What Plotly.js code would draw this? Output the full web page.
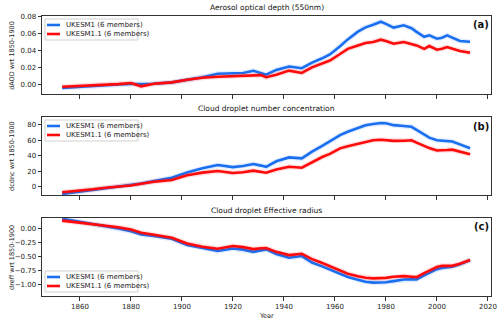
<!DOCTYPE html>
<html>
<head>
<meta charset="utf-8">
<script src="https://cdn.plot.ly/plotly-3.0.1.min.js"></script>
<style>
  html, body { margin: 0; padding: 0; background: #fff; }
  #graph { width: 500px; height: 322px; }
</style>
</head>
<body>
<div id="graph"></div>
<script>
// values, anomaly wrt 1850-1900
var years = [1853, 1860, 1865, 1870, 1875, 1880, 1884, 1889, 1896, 1902, 1908, 1914, 1920, 1924,
  1928, 1931, 1933, 1937, 1942, 1947, 1951, 1955, 1958, 1962, 1965, 1969, 1972, 1975, 1978,
  1980, 1983, 1987, 1990, 1992, 1995, 1997, 2000, 2002, 2004, 2006, 2009, 2013];

var aodUK1 = [-0.0035, -0.002, -0.001, 0.0, 0.0005, 0.0012, 0.001, 0.0015, 0.003, 0.006, 0.009, 0.013,
  0.014, 0.014, 0.0165, 0.014, 0.012, 0.0175, 0.0215, 0.0195, 0.026, 0.031, 0.0355, 0.045, 0.053,
  0.062, 0.067, 0.070, 0.0735, 0.071, 0.0667, 0.0694, 0.066, 0.0617, 0.056, 0.0577, 0.0538, 0.055,
  0.0577, 0.055, 0.0511, 0.0503];
var aodUK11 = [-0.002, -0.001, 0.0, 0.0, 0.001, 0.0023, -0.0016, 0.0015, 0.003, 0.006, 0.0085, 0.0095,
  0.0105, 0.011, 0.0115, 0.0115, 0.009, 0.012, 0.0167, 0.014, 0.0205, 0.025, 0.0284, 0.036, 0.042,
  0.046, 0.0488, 0.050, 0.0527, 0.051, 0.048, 0.050, 0.048, 0.046, 0.042, 0.0453, 0.041, 0.042,
  0.044, 0.042, 0.0394, 0.0374];

var cdncUK1 = [-9, -6, -3.8, -1.7, 0, 2, 4.5, 7.7, 12, 18.5, 24, 28.2, 25.5, 27, 29.5, 27.5, 26, 33,
  38, 36.8, 45.5, 53, 58.5, 66.8, 71, 76, 79.5, 81, 82.2, 82, 79.5, 78.5, 77.4, 73.5, 67, 63.5, 60,
  59.3, 59.5, 58.5, 54.8, 49.7];
var cdncUK11 = [-6.8, -5.1, -3, -0.9, 0.5, 2, 4.2, 6.8, 9, 15, 18.5, 20.5, 18, 19, 21, 20, 18.4, 22.5,
  26, 24.8, 32, 38.5, 42.5, 49.7, 52.5, 55.5, 58.5, 60, 60.7, 60.3, 59.3, 59.5, 60, 57, 52.5, 50, 47,
  46.8, 47.5, 48, 45.3, 42];

var reffUK1 = [0.185, 0.13, 0.09, 0.054, 0.01, -0.04, -0.096, -0.126, -0.174, -0.285, -0.345, -0.395,
  -0.35, -0.37, -0.41, -0.38, -0.365, -0.45, -0.515, -0.485, -0.6, -0.67, -0.724, -0.8, -0.86, -0.91,
  -0.945, -0.96, -0.964, -0.955, -0.934, -0.904, -0.9, -0.904, -0.83, -0.78, -0.72, -0.7, -0.69,
  -0.675, -0.634, -0.557];
var reffUK11 = [0.15, 0.113, 0.09, 0.066, 0.03, -0.01, -0.066, -0.102, -0.156, -0.26, -0.318, -0.354,
  -0.305, -0.325, -0.36, -0.345, -0.34, -0.41, -0.467, -0.443, -0.54, -0.61, -0.664, -0.74, -0.8,
  -0.845, -0.874, -0.885, -0.886, -0.875, -0.856, -0.844, -0.855, -0.862, -0.79, -0.74, -0.68, -0.66,
  -0.665, -0.66, -0.623, -0.557];

var names = ["UKESM1 (6 members)", "UKESM1.1 (6 members)"];
var titles = ["Aerosol optical depth (550nm)", "Cloud droplet number concentration", "Cloud droplet Effective radius"];
var ylabels = ["dAOD wrt 1850-1900", "dcdnc wrt 1850-1900", "dreff wrt 1850-1900"];
var panelTags = ["(a)", "(b)", "(c)"];

var blue = "#1a6ff0";
var red = "#ff0a0a";
var colors = [blue, red];
var fnt = "DejaVu Sans, sans-serif";

function series(x, y, xa, ya, col, name) {
  // faint wide copy underneath to mimic the member spread
  var halo = {
    x: x, y: y, xaxis: xa, yaxis: ya, type: "scatter", mode: "lines",
    line: {color: col, width: 5}, opacity: 0.13, showlegend: false, hoverinfo: "skip"
  };
  var main = {
    x: x, y: y, xaxis: xa, yaxis: ya, type: "scatter", mode: "lines", name: name,
    line: {color: col, width: 2.6}, showlegend: false
  };
  return [halo, main];
}

var data = [].concat(
  series(years, aodUK1, "x", "y", blue, names[0]),
  series(years, aodUK11, "x", "y", red, names[1]),
  series(years, cdncUK1, "x2", "y2", blue, names[0]),
  series(years, cdncUK11, "x2", "y2", red, names[1]),
  series(years, reffUK1, "x3", "y3", blue, names[0]),
  series(years, reffUK11, "x3", "y3", red, names[1])
);

function xax(anchor, labels) {
  return {
    anchor: anchor, range: [1845.1, 2021.2], showgrid: false, zeroline: false,
    showline: true, mirror: true, linecolor: "#333", linewidth: 1,
    ticks: "outside", ticklen: 3.5, tickcolor: "#333", tickvals: [1860, 1880, 1900, 1920, 1940, 1960, 1980, 2000, 2020],
    showticklabels: labels, tickfont: {family: fnt, size: 7, color: "#222"}
  };
}
function yax(anchor, dom, rng, vals, fmt) {
  return {
    anchor: anchor, domain: dom, range: rng, showgrid: false, zeroline: false,
    showline: true, mirror: true, linecolor: "#333", linewidth: 1,
    ticks: "outside", ticklen: 3.5, tickcolor: "#333", tickvals: vals, tickformat: fmt,
    tickfont: {family: fnt, size: 7, color: "#222"}
  };
}

var annotations = [];
var shapes = [];
var titleY = [1.0286, 0.671, 0.307];
var tagY = [0.971, 0.604, 0.25];
var ylabY = [0.861, 0.5, 0.139];
// hand-drawn legends (matplotlib-style compact boxes)
var legTop = [0.9893, 0.6286, 0.0893];
var legH = 0.075, rowOff = [0.0214, 0.0536];
for (var k = 0; k < 3; k++) {
  annotations.push({text: titles[k], xref: "paper", yref: "paper", x: 0.5, y: titleY[k],
    xanchor: "center", yanchor: "middle", showarrow: false, font: {family: fnt, size: 7.5, color: "#111"}});
  annotations.push({text: "<b>" + panelTags[k] + "</b>", xref: "paper", yref: "paper", x: 0.978, y: tagY[k],
    xanchor: "center", yanchor: "middle", showarrow: false, font: {family: fnt, size: 10, color: "#111"}});
  annotations.push({text: ylabels[k], xref: "paper", yref: "paper", x: -0.067, y: ylabY[k], textangle: -90,
    xanchor: "center", yanchor: "middle", showarrow: false, font: {family: fnt, size: 6.5, color: "#222"}});

  shapes.push({type: "rect", xref: "paper", yref: "paper", x0: 0.0067, x1: 0.2138,
    y0: legTop[k] - legH, y1: legTop[k], fillcolor: "rgba(255,255,255,0.9)",
    line: {color: "#d0d0d0", width: 1}});
  for (var s = 0; s < 2; s++) {
    var yy = legTop[k] - rowOff[s];
    shapes.push({type: "line", xref: "paper", yref: "paper", x0: 0.0111, x1: 0.0401, y0: yy, y1: yy,
      line: {color: colors[s], width: 2.6}});
    annotations.push({text: names[s], xref: "paper", yref: "paper", x: 0.049, y: yy,
      xanchor: "left", yanchor: "middle", showarrow: false, font: {family: fnt, size: 7, color: "#222"}});
  }
}
annotations.push({text: "Year", xref: "paper", yref: "paper", x: 0.5, y: -0.071,
  xanchor: "center", yanchor: "middle", showarrow: false, font: {family: fnt, size: 6.5, color: "#222"}});

var layout = {
  width: 500, height: 322,
  margin: {l: 42, r: 9, t: 16, b: 26},
  paper_bgcolor: "#fff", plot_bgcolor: "#fff",
  xaxis: xax("y", false),
  xaxis2: xax("y2", false),
  xaxis3: xax("y3", true),
  yaxis: yax("x", [0.7214, 1.0], [-0.0105, 0.0802], [0, 0.02, 0.04, 0.06, 0.08], ".2f"),
  yaxis2: yax("x2", [0.3607, 0.6393], [-10.3, 90], [0, 20, 40, 60, 80], "d"),
  yaxis3: yax("x3", [0, 0.2786], [-1.2, 0.197], [-1.0, -0.75, -0.5, -0.25, 0], ".2f"),
  annotations: annotations,
  shapes: shapes,
  showlegend: false
};

Plotly.newPlot("graph", data, layout, {displayModeBar: false, staticPlot: true});
</script>
</body>
</html>
